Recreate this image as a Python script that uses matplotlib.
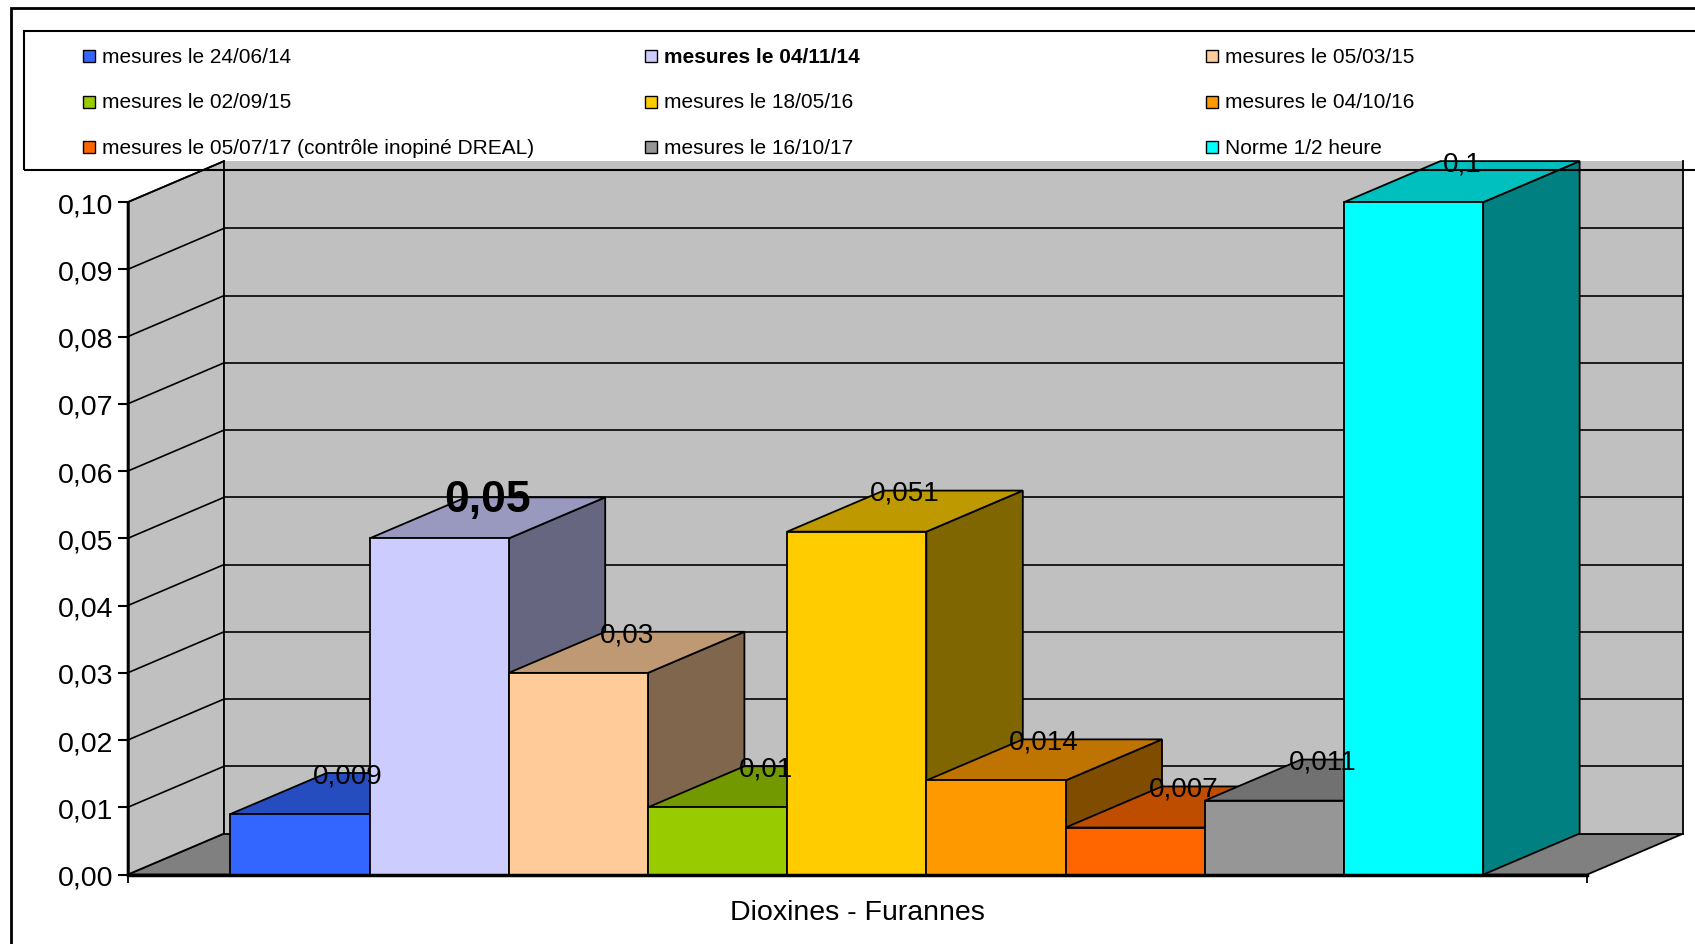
import numpy as np
import matplotlib
matplotlib.use("Agg")
import matplotlib.pyplot as plt
from matplotlib.patches import Polygon, Rectangle
from matplotlib.colors import to_rgb
from matplotlib.ticker import FuncFormatter

plt.rcParams['font.family'] = ['Liberation Sans', 'DejaVu Sans']

# --- data ---
series = ['mesures le 24/06/14', 'mesures le 04/11/14', 'mesures le 05/03/15',
          'mesures le 02/09/15', 'mesures le 18/05/16', 'mesures le 04/10/16',
          'mesures le 05/07/17 (contrôle inopiné DREAL)', 'mesures le 16/10/17',
          'Norme 1/2 heure']
values = [0.009, 0.05, 0.03, 0.01, 0.051, 0.014, 0.007, 0.011, 0.1]
colors = ['#3366FF', '#CCCCFF', '#FFCC99', '#99CC00', '#FFCC00', '#FF9900',
          '#FF6600', '#969696', '#00FFFF']
highlight = 1          # series shown in bold
category = 'Dioxines - Furannes'
yticks = np.round(np.arange(0, 0.1001, 0.01), 2)

# --- figure / pseudo-3D geometry ---
W, H = 1695, 945
fig = plt.figure(figsize=(W / 100, H / 100), dpi=100)
fig.patch.set_facecolor('white')

def fx(px):
    return px / W

def fy(py):
    return 1 - py / H

ax = fig.add_axes([fx(127.6), fy(875.6), fx(1587) - fx(127.6), fy(203.2) - fy(875.6)])
ax.patch.set_visible(False)

xw0, xw1 = -0.738, 9.746      # front edges of the floor
dx, dy = 0.693, 0.00611       # depth offset
ax.set_xlim(xw0, xw1)
ax.set_ylim(0, 0.1)

wall = '#C0C0C0'
floor = '#808080'
ek = dict(edgecolor='black', linewidth=1.3, clip_on=False)

# floor, side wall, back wall
ax.add_patch(Polygon([(xw0, 0), (xw1, 0), (xw1 + dx, dy), (xw0 + dx, dy)],
                     facecolor=floor, zorder=0.5, **ek))
ax.add_patch(Polygon([(xw0, 0), (xw0 + dx, dy), (xw0 + dx, 0.1 + dy), (xw0, 0.1)],
                     facecolor=wall, zorder=0.5, **ek))
ax.add_patch(Polygon([(xw0 + dx, dy), (xw1 + dx, dy), (xw1 + dx, 0.1 + dy), (xw0 + dx, 0.1 + dy)],
                     facecolor=wall, edgecolor='none', zorder=0.5, clip_on=False))
for seg in ([(xw0 + dx, xw0 + dx), (dy, 0.1 + dy)],
            [(xw1 + dx, xw1 + dx), (dy, 0.1 + dy)],
            [(xw0 + dx, xw1 + dx), (dy, dy)]):
    ax.plot(seg[0], seg[1], color='black', lw=1.3, zorder=0.6, clip_on=False)

# gridlines on side and back walls
for t in yticks[1:]:
    ax.plot([xw0, xw0 + dx], [t, t + dy], color='black', lw=1.2, zorder=0.6, clip_on=False)
    if t < 0.1:
        ax.plot([xw0 + dx, xw1 + dx], [t + dy, t + dy], color='black', lw=1.2,
                zorder=0.6, clip_on=False)

# bars, drawn left to right so each one hides the side of its neighbour
for i, (v, c) in enumerate(zip(values, colors)):
    base = np.array(to_rgb(c))
    x0, x1 = i, i + 1
    z = 1 + i * 0.01
    ax.add_patch(Polygon([(x1, 0), (x1 + dx, dy), (x1 + dx, v + dy), (x1, v)],
                         facecolor=base * 0.5, zorder=z, **ek))
    ax.add_patch(Polygon([(x0, v), (x1, v), (x1 + dx, v + dy), (x0 + dx, v + dy)],
                         facecolor=base * 0.75, zorder=z, **ek))
    ax.add_patch(Polygon([(x0, 0), (x1, 0), (x1, v), (x0, v)],
                         facecolor=base, zorder=z, **ek))

# value labels
for i, v in enumerate(values):
    lab = f'{v:g}'.replace('.', ',')
    bold = i == highlight
    ax.text(i + 0.5 + dx / 2, v + dy / 2 + 0.0027, lab, ha='center', va='center',
            fontsize=32 if bold else 20, fontweight='bold' if bold else 'normal',
            zorder=10, clip_on=False)

# axes
for s in ('top', 'right'):
    ax.spines[s].set_visible(False)
ax.spines['left'].set_linewidth(1.8)
ax.spines['bottom'].set_linewidth(2.5)
ax.spines['left'].set_zorder(3)
ax.spines['bottom'].set_zorder(3)
ax.set_yticks(yticks)
ax.yaxis.set_major_formatter(FuncFormatter(lambda v, _: f'{v:.2f}'.replace('.', ',')))
ax.tick_params(axis='y', length=7.5, width=1.5, pad=2.5, labelsize=20.5, direction='out')
ax.set_xticks([xw0, xw1])
ax.set_xticklabels(['', ''])
ax.tick_params(axis='x', length=6, width=1.3, direction='out')
ax.set_xlabel(category, fontsize=20.5, labelpad=8)

# outer frame and legend box
fig.patches.append(Rectangle((fx(10.8), -0.1), 1.2, fy(8.6) + 0.1, transform=fig.transFigure,
                             fill=False, edgecolor='black', linewidth=2, zorder=20))
fig.patches.append(Rectangle((fx(23.8), fy(170.8)), 1.2, fy(32.4) - fy(170.8),
                             transform=fig.transFigure, fill=False, edgecolor='black',
                             linewidth=1.5, zorder=20))

col_x = [83.2, 645.4, 1206.4]
row_y = [57.3, 102.7, 148.1]
msize = 12
for k, (name, c) in enumerate(zip(series, colors)):
    r, col = divmod(k, 3)
    mx, my = col_x[col], row_y[r]
    fig.patches.append(Rectangle((fx(mx), fy(my + msize / 2)), msize / W, msize / H,
                                 transform=fig.transFigure, facecolor=c,
                                 edgecolor='black', linewidth=1, zorder=21))
    fig.text(fx(mx + msize + 7), fy(my), name, ha='left', va='center', fontsize=15,
             fontweight='bold' if k == highlight else 'normal', zorder=21)

fig.savefig('out.png', dpi=100)
